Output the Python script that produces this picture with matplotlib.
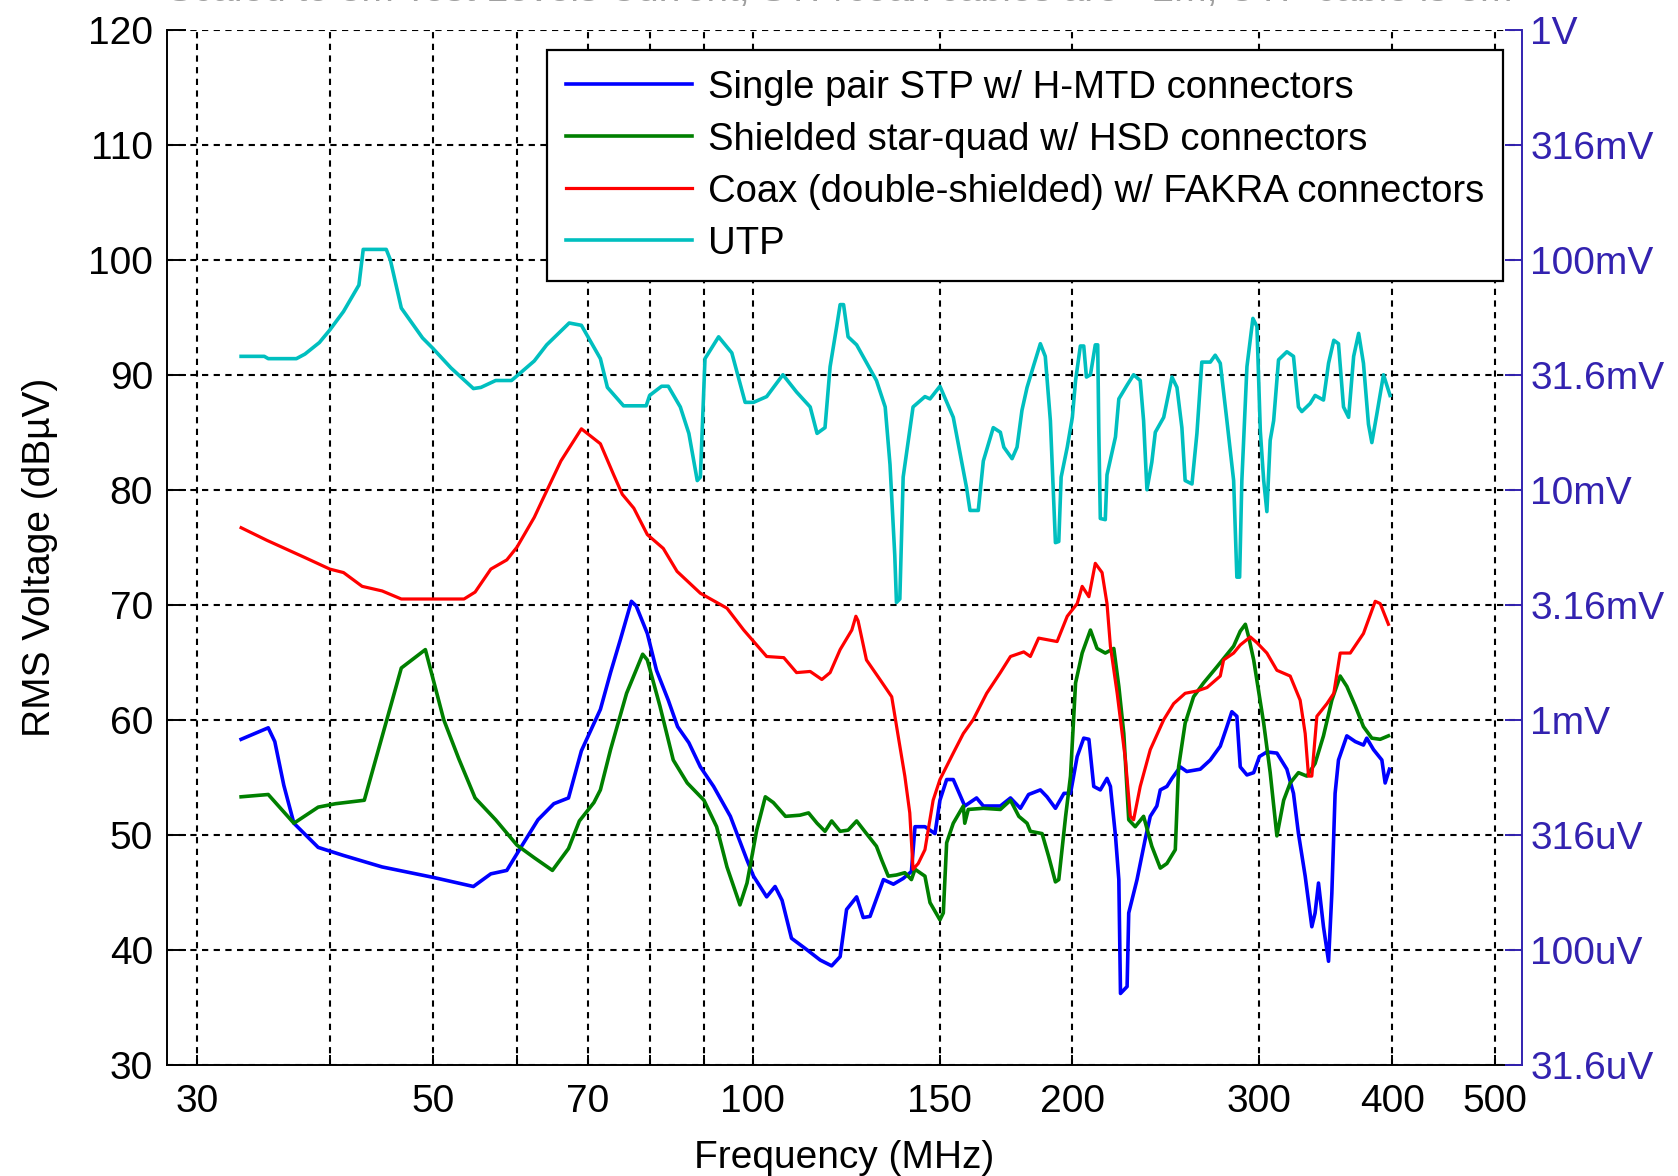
import matplotlib
matplotlib.use('Agg')
import matplotlib.pyplot as plt

plt.rcParams['font.family'] = ['Liberation Sans', 'DejaVu Sans']

# Single pair STP w/ H-MTD connectors
stp_f = [33.0, 35.0, 35.5, 36.2, 37.0, 39.0, 41.2, 44.8, 50.0, 54.6, 56.7, 58.7, 60.7, 62.8, 65.0, 67.1, 69.0,
         71.9, 73.5, 75.1, 76.9, 77.7, 79.6, 81.2, 83.3, 85.0, 87.1, 89.3, 91.9, 95.3, 98.8, 100.2, 103.1, 105.0,
         106.6, 108.8, 112.5, 115.8, 118.7, 120.9, 122.6, 125.3, 127.1, 129.0, 132.8, 135.7, 138.6, 141.1, 142.2,
         145.3, 148.5, 150.1, 152.3, 154.5, 158.4, 162.5, 164.9,
         171.1, 174.9, 178.7, 181.9, 186.6, 189.3, 192.8, 196.4, 199.2, 202.1, 205.0, 207.3, 209.5, 212.5, 215.6,
         217.2, 219.6, 221.2, 222.0, 225.2, 226.0, 230.1, 234.2, 236.8, 240.2, 242.0, 245.5, 248.2, 252.7, 256.3,
         263.9, 269.7, 275.6, 279.6, 282.6, 285.7, 287.8, 292.0, 296.3, 300.0, 304.9, 311.6, 318.4, 323.0, 326.5,
         331.3, 336.1, 338.5, 341.0, 344.7, 348.5, 351.0, 353.5, 356.1, 362.6, 369.3, 375.9, 378.6, 384.2, 391.2,
         394.0, 397.7]
stp_db = [58.3, 59.3, 58.1, 54.3, 51.0, 48.9, 48.2, 47.2, 46.3, 45.5, 46.6, 46.9, 49.1, 51.3, 52.7, 53.2, 57.3,
          60.9, 64.1, 67.0, 70.3, 69.9, 67.5, 64.3, 61.7, 59.4, 58.0, 55.9, 54.2, 51.6, 47.8, 46.4, 44.6, 45.5,
          44.3, 41.0, 40.0, 39.1, 38.6, 39.4, 43.5, 44.6, 42.8, 42.9, 46.1, 45.7, 46.2, 46.8, 50.7,
          50.7, 50.1, 53.0, 54.8, 54.8, 52.5, 53.2, 52.5,
          52.5, 53.2, 52.3, 53.5, 53.9, 53.3, 52.3, 53.6, 53.6, 56.8, 58.4, 58.3, 54.2, 53.9, 54.9,
          54.2, 49.9, 46.1, 36.2, 36.8, 43.2, 46.1, 49.6, 51.6, 52.5, 53.9, 54.2, 54.9, 55.9, 55.5,
          55.7, 56.5, 57.7, 59.4, 60.7, 60.3, 55.9, 55.2, 55.4, 56.8, 57.2, 57.1, 55.7, 53.6, 50.1,
          46.4, 42.0, 43.2, 45.8, 42.0, 39.0, 44.9, 53.6, 56.5, 58.6, 58.1, 57.8, 58.4, 57.4, 56.5,
          54.5, 55.7]

# Shielded star-quad w/ HSD connectors
hsd_f = [33.0, 35.0, 37.0, 39.0, 40.5, 43.1, 46.7, 49.2, 51.2, 52.9, 54.8, 57.3, 60.0, 62.3, 64.8, 67.1, 68.7, 70.9,
         71.9, 73.5, 76.1, 78.8, 79.6, 81.8, 84.2, 86.8, 90.0, 92.5, 94.6, 97.3, 98.8, 100.9, 102.8, 104.6, 107.4,
         110.8, 112.9, 115.0, 117.0, 118.7, 120.9, 123.0, 125.3, 128.0, 130.8, 132.3, 134.2, 136.6, 139.1, 141.1,
         142.2, 145.3, 146.9, 150.1, 151.2, 152.3, 154.5, 157.9, 158.4, 159.6, 164.9,
         171.1, 174.9, 178.1, 181.3, 182.6, 187.3, 190.0, 192.8, 194.2, 197.1, 199.2, 201.4, 204.3, 208.0, 211.0,
         214.8, 218.8, 221.2, 223.6, 226.0, 229.2, 233.4, 237.6, 242.0, 245.5, 250.0, 251.8, 255.4, 260.1, 265.8,
         273.6, 283.7, 287.8, 291.0, 293.1, 296.3, 302.8, 307.1, 311.6, 316.2, 320.7, 326.5, 332.5, 338.5, 344.7,
         351.0, 357.4, 362.6, 369.3, 375.9, 382.8, 389.8, 396.8]
hsd_db = [53.3, 53.5, 51.0, 52.4, 52.7, 53.0, 64.5, 66.1, 60.0, 56.6, 53.2, 51.3, 49.1, 48.0, 46.9, 48.8, 51.2, 52.8,
          53.9, 57.4, 62.3, 65.7, 65.2, 61.2, 56.5, 54.5, 53.0, 50.7, 47.2, 43.9, 45.8, 50.4, 53.3, 52.8, 51.6,
          51.7, 51.9, 51.0, 50.3, 51.2, 50.3, 50.4, 51.2, 50.1, 49.0, 47.8, 46.4, 46.5, 46.7, 46.1,
          47.0, 46.4, 44.1, 42.6, 43.2, 49.3, 51.0, 52.5, 51.0, 52.2, 52.3,
          52.2, 53.0, 51.6, 51.0, 50.3, 50.1, 48.1, 45.9, 46.1, 51.6, 55.1, 63.2, 65.8, 67.8, 66.2,
          65.8, 66.2, 62.9, 58.8, 51.3, 50.7, 51.6, 49.0, 47.1, 47.5, 48.7, 55.9, 59.7, 62.0, 63.2,
          64.6, 66.4, 67.7, 68.3, 67.2, 65.2, 59.7, 55.4, 49.9, 53.0, 54.5, 55.4, 55.1, 56.2, 58.6,
          61.7, 63.8, 62.9, 61.2, 59.4, 58.4, 58.3, 58.6]

# Coax (double-shielded) w/ FAKRA connectors
coax_f = [33.0, 34.9, 37.9, 40.0, 41.2, 42.9, 44.8, 46.7, 53.5, 54.8, 56.7, 58.7, 60.0, 62.3, 63.4, 66.0, 69.0,
          71.9, 74.0, 75.4, 77.3, 79.6, 82.4, 84.9, 89.3, 94.6, 98.1, 103.1, 107.0, 110.0, 113.3, 116.2, 118.3,
          120.9, 124.0, 125.1, 125.7, 128.0, 131.8, 135.2, 137.1, 139.1, 140.6, 141.6, 143.2, 145.3, 147.9, 150.1,
          154.5, 157.9, 161.3, 166.1,
          171.1, 174.9, 180.0, 182.6, 185.9, 193.5, 197.8, 202.1, 204.3, 207.3, 210.2, 213.3, 215.6, 217.2, 220.4,
          224.4, 226.8, 228.4, 231.7, 236.8, 243.8, 249.1, 255.4, 262.0, 267.8, 275.6, 277.6, 283.7, 287.8, 294.1,
          298.4, 304.9, 311.6, 320.7, 327.7, 331.3, 333.7, 336.1, 339.8, 347.3, 352.5, 357.4, 365.3, 375.9, 385.6,
          389.8, 396.8]
coax_db = [76.7, 75.6, 74.1, 73.1, 72.8, 71.6, 71.2, 70.5, 70.5, 71.1, 73.1, 73.9, 75.0, 77.6, 79.1, 82.5, 85.3,
           84.0, 81.3, 79.6, 78.4, 76.1, 74.9, 72.9, 71.0, 69.7, 67.8, 65.5, 65.4, 64.1, 64.2, 63.5, 64.1,
           66.1, 67.8, 69.0, 68.6, 65.2, 63.5, 62.0, 58.6, 55.1, 51.9, 47.0, 47.5, 48.7, 53.0, 54.8,
           57.1, 58.8, 60.0, 62.3,
           64.1, 65.5, 65.9, 65.5, 67.1, 66.8, 69.0, 70.1, 71.6, 70.7, 73.6, 72.8, 70.1, 66.4, 62.3,
           56.5, 51.6, 51.3, 54.2, 57.4, 60.0, 61.4, 62.3, 62.5, 62.8, 63.8, 65.2, 65.8, 66.5, 67.2,
           66.7, 65.8, 64.3, 63.8, 61.7, 58.8, 55.1, 55.1, 60.3, 61.4, 62.3, 65.8, 65.8, 67.5, 70.3,
           70.1, 68.3]

# UTP
utp_f = [33.0, 34.7, 35.0, 37.2, 37.9, 39.1, 40.0, 41.2, 42.6, 43.0, 45.2, 45.6, 46.7, 48.9, 50.0, 52.0, 54.6, 55.5,
         57.3, 59.3, 60.0, 62.3, 64.0, 67.2, 69.0,
         71.9, 73.0, 75.6, 79.4, 80.0, 82.1, 83.3, 85.5, 87.1, 88.7, 89.3, 90.2, 92.9, 95.6, 98.4, 100.2, 103.1,
         106.8, 110.0, 113.3, 115.0, 117.0, 118.3, 120.0, 120.9, 121.8, 123.0, 125.3, 130.8, 133.3, 134.7, 136.1,
         136.6, 137.6, 138.1, 138.6, 141.6, 145.3, 146.9, 150.1, 154.5, 159.0, 160.2, 163.1, 164.9, 168.5,
         171.1, 172.4, 175.5, 177.4, 179.3, 181.3, 183.9, 186.6, 188.6, 190.7, 191.8, 192.8, 194.2, 195.2, 197.8,
         200.0, 201.4, 203.5, 205.0, 206.2, 208.0, 210.2, 211.3, 211.8, 212.5, 214.8, 215.6, 219.6, 221.2, 225.2,
         228.4, 231.7, 233.4, 235.1, 237.6, 239.4, 243.8, 248.2, 250.9, 253.6, 255.4, 259.2, 262.0, 264.8, 269.7,
         272.6, 275.6, 279.6, 283.7, 285.7, 287.4, 288.8, 292.0, 294.1, 295.8, 298.4, 300.6, 302.8, 304.9, 307.1,
         309.4, 312.7, 318.4, 323.0, 326.5, 328.9, 334.9, 338.5, 344.7, 348.5, 352.5, 356.1, 360.0, 364.0, 368.0,
         372.0, 375.9, 380.0, 382.8, 387.0, 392.6, 398.2]
utp_db = [91.6, 91.6, 91.4, 91.4, 91.8, 92.8, 93.9, 95.5, 97.8, 100.9, 100.9, 100.0, 95.8, 93.2, 92.3, 90.6, 88.8, 88.9,
          89.5, 89.5, 89.9, 91.2, 92.6, 94.5, 94.3,
          91.4, 88.9, 87.3, 87.3, 88.2, 89.0, 89.0, 87.2, 84.9, 80.8, 81.1, 91.4, 93.3, 91.9, 87.6, 87.6, 88.1,
          90.0, 88.5, 87.2, 84.9, 85.4, 90.7, 94.2, 96.1, 96.1, 93.3, 92.6, 89.5, 87.2, 82.2, 74.3,
          70.2, 70.5, 75.8, 81.1, 87.2, 88.1, 87.9, 89.0, 86.3, 80.2, 78.2, 78.2, 82.5, 85.4,
          85.0, 83.7, 82.7, 83.7, 86.9, 88.9, 90.8, 92.7, 91.6, 86.0, 80.5, 75.4, 75.5, 81.1, 83.7,
          86.3, 89.5, 92.5, 92.5, 89.8, 90.0, 92.6, 92.6, 85.1, 77.5, 77.4, 81.3, 84.6, 87.9, 89.1,
          90.0, 89.5, 86.0, 80.0, 82.4, 85.0, 86.3, 89.8, 88.9, 85.4, 80.8, 80.5, 84.9, 91.1, 91.1,
          91.7, 91.0, 86.0, 80.8, 72.4, 72.4, 80.8, 90.7, 93.0, 94.9, 94.2, 85.1, 80.8, 78.1, 84.3,
          86.0, 91.3, 92.0, 91.6, 87.2, 86.8, 87.5, 88.2, 87.8, 91.0, 93.0, 92.7, 87.2, 86.3, 91.6,
          93.6, 91.0, 85.7, 84.1, 86.6, 90.0, 88.2]

x_ticks = [30, 40, 50, 60, 70, 80, 90, 100, 150, 200, 300, 400, 500]
x_labels = ['30', '', '50', '', '70', '', '', '100', '150', '200', '300', '400', '500']
y_ticks = [30, 40, 50, 60, 70, 80, 90, 100, 110, 120]
v_labels = ['31.6uV', '100uV', '316uV', '1mV', '3.16mV', '10mV', '31.6mV', '100mV', '316mV', '1V']

right_col = '#3322b0'

fig = plt.figure(figsize=(16.78, 11.76), dpi=100)
ax = fig.add_axes([0.0995, 0.0946, 0.8075, 0.8801])

ax.plot(stp_f, stp_db, color='#0000ff', lw=2.6, label='Single pair STP w/ H-MTD connectors')
ax.plot(hsd_f, hsd_db, color='#008000', lw=2.6, label='Shielded star-quad w/ HSD connectors')
ax.plot(coax_f, coax_db, color='#ff0000', lw=2.3, label='Coax (double-shielded) w/ FAKRA connectors')
ax.plot(utp_f, utp_db, color='#00bfbf', lw=2.6, label='UTP')

ax.set_xscale('log')
ax.set_xlim(28.1, 530)
ax.set_ylim(30, 120)
ax.set_xticks(x_ticks)
ax.set_xticklabels(x_labels)
ax.minorticks_off()
ax.set_yticks(y_ticks)
ax.grid(True, color='black', linestyle=(0, (3, 2.6)), linewidth=1.5)

ax.tick_params(axis='y', direction='in', length=14, width=1.4, pad=10, labelsize=28)
ax.tick_params(axis='x', direction='in', length=7, width=1.4, pad=14, labelsize=28)
for s in ['top', 'right']:
    ax.spines[s].set_visible(False)
for s in ['left', 'bottom']:
    ax.spines[s].set_linewidth(1.4)

ax.set_xlabel('Frequency (MHz)', fontsize=28, labelpad=14)
ax.set_ylabel('RMS Voltage (dBµV)', fontsize=28)
ax.yaxis.label.set_va('center')
ax.yaxis.set_label_coords(-0.094, 0.49)

# second y axis with voltage labels
ax2 = ax.twinx()
ax2.set_ylim(30, 120)
ax2.set_yticks(y_ticks)
ax2.set_yticklabels(v_labels)
ax2.tick_params(axis='y', direction='in', length=12, width=1.4, pad=6, labelsize=28,
                colors=right_col)
for s in ['top', 'left', 'bottom']:
    ax2.spines[s].set_visible(False)
ax2.spines['right'].set_color(right_col)
ax2.spines['right'].set_linewidth(1.4)

leg = ax.legend(loc='upper right', bbox_to_anchor=(0.986, 0.980), borderaxespad=0,
                fontsize=27.5, fancybox=False, framealpha=1, edgecolor='black',
                handlelength=3.3, handletextpad=0.4, labelspacing=0.42, borderpad=0.5)
leg.get_frame().set_linewidth(1.6)
leg.set_zorder(5)

fig.text(0.5006, 0.9988, 'Scaled to 3m Test Levels Current; STP/coax cables are ~2m, UTP cable is 3m',
         ha='center', va='baseline', fontsize=28, color='#a0a0a0')

fig.savefig('out.png', dpi=100)
